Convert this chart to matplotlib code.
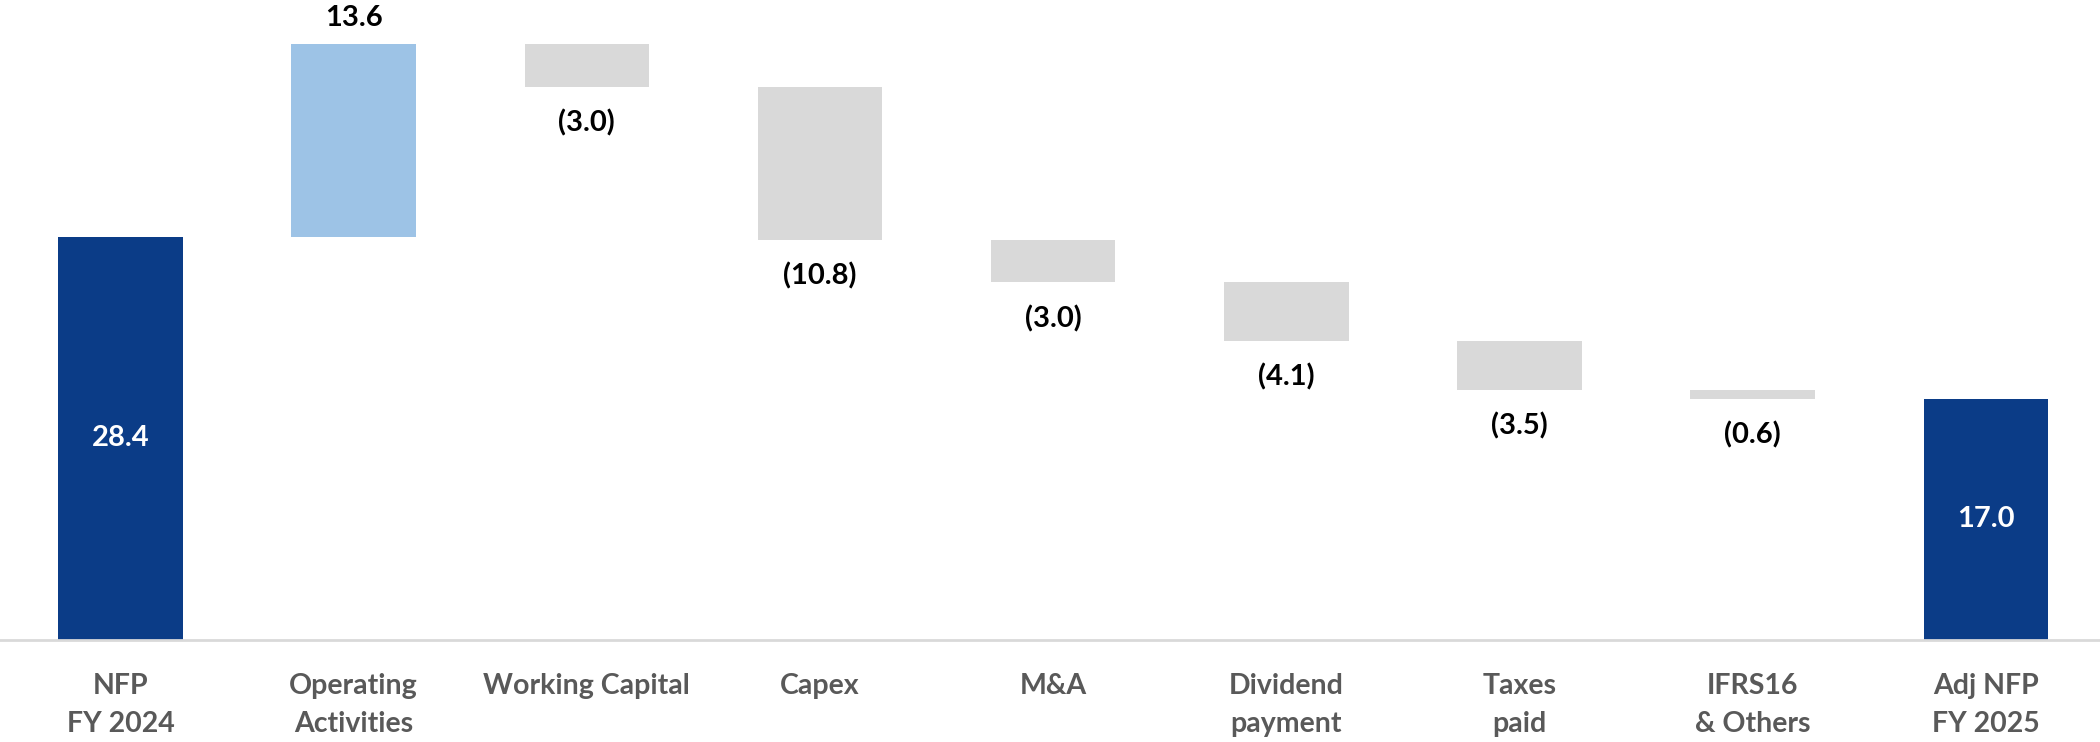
import matplotlib
matplotlib.use("Agg")
import matplotlib.pyplot as plt

categories = ["NFP\nFY 2024", "Operating\nActivities", "Working Capital", "Capex", "M&A",
              "Dividend\npayment", "Taxes\npaid", "IFRS16\n& Others", "Adj NFP\nFY 2025"]
values = [28.4, 13.6, -3.0, -10.8, -3.0, -4.1, -3.5, -0.6, 17.0]
kinds = ["total", "up", "down", "down", "down", "down", "down", "down", "total"]

colors = {"total": "#0B3C87", "up": "#9DC3E6", "down": "#D9D9D9"}

plt.rcParams['font.family'] = ['Lato', 'DejaVu Sans']

fig = plt.figure(figsize=(21, 7.42), dpi=100)
ax = fig.add_axes([0.0, 0.1375, 1.0, 0.8625])

running = 0
for i, (v, k) in enumerate(zip(values, kinds)):
    if k == "total":
        bottom, height = 0, v
        running = v
    else:
        bottom = running if v > 0 else running + v
        height = abs(v)
        running += v
    ax.bar(i, height, bottom=bottom, width=0.534, color=colors[k])
    if k == "total":
        ax.text(i, bottom + height / 2, f"{v:.1f}", ha="center", va="center",
                color="white", fontsize=21, fontweight="bold")
    elif v > 0:
        ax.annotate(f"{v:.1f}", (i, bottom + height), xytext=(0, 19),
                    textcoords="offset points", ha="center", va="center",
                    fontsize=21, fontweight="bold", color="black")
    else:
        ax.annotate(f"({abs(v):.1f})", (i, bottom), xytext=(0, -26),
                    textcoords="offset points", ha="center", va="center",
                    fontsize=21, fontweight="bold", color="black")

ax.set_xlim(-0.517, 8.49)
ax.set_ylim(0, 45.1)
ax.set_yticks([])
ax.set_xticks(range(len(categories)))
ax.set_xticklabels(categories, fontsize=20.5, fontweight="bold", color="#595959",
                   linespacing=1.55)
ax.tick_params(axis="x", length=0, pad=24)
for s in ["top", "right", "left"]:
    ax.spines[s].set_visible(False)
ax.spines["bottom"].set_color("#D9D9D9")
ax.spines["bottom"].set_linewidth(2)

fig.savefig("out.png", dpi=100)
